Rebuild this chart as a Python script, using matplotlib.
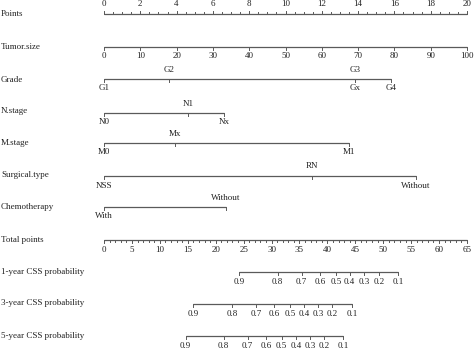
import numpy as np
import matplotlib
matplotlib.use("Agg")
import matplotlib.pyplot as plt

# ---- data (points scale 0-20) ----
points_major = np.arange(0, 21, 2)
points_minor = np.arange(0, 20.01, 0.5)

tumor_size = np.arange(0, 101, 10)
tumor_pts_per_unit = 0.2

grade_lab = ["G1", "G2", "G3", "Gx", "G4"]
grade_pts = [0.0, 3.58, 13.83, 13.83, 15.81]
grade_up = [False, True, True, False, False]

n_lab = ["N0", "N1", "Nx"]
n_pts = [0.0, 4.63, 6.61]
n_up = [False, True, False]

m_lab = ["M0", "Mx", "M1"]
m_pts = [0.0, 3.91, 13.5]
m_up = [False, True, False]

surg_lab = ["NSS", "RN", "Without"]
surg_pts = [0.0, 11.46, 17.19]
surg_up = [False, True, False]

chemo_lab = ["With", "Without"]
chemo_pts = [0.0, 6.72]
chemo_up = [False, True]

total_major = np.arange(0, 66, 5)
total_minor = np.arange(0, 66, 1)
TOTAL_MAX = 65.0

prob_lab = ["0.9", "0.8", "0.7", "0.6", "0.5", "0.4", "0.3", "0.2", "0.1"]
css1_total = [24.2, 31.1, 35.4, 38.7, 41.5, 44.0, 46.6, 49.2, 52.6]
css3_total = [16.0, 22.9, 27.2, 30.5, 33.3, 35.8, 38.4, 40.9, 44.4]
css5_total = [14.6, 21.4, 25.7, 29.0, 31.8, 34.4, 36.9, 39.4, 42.8]

row_names = ["Points", "Tumor.size", "Grade", "N.stage", "M.stage",
             "Surgical.type", "Chemotherapy", "Total points",
             "1-year CSS probability", "3-year CSS probability",
             "5-year CSS probability"]

# ---- layout (pixel rows, figure is 474x352) ----
W, H = 474, 352
PX0, PX20 = 104, 467
ppx = (PX20 - PX0) / 20.0
row_y = [14, 47, 79, 113, 143, 176, 207, 240, 272, 304, 336]
name_y = [14, 47, 80, 111, 143, 175, 207, 240, 272, 303, 336]
LC = "#5a5a5a"
TC = "#222222"
FS = 6.5

plt.rcParams["font.family"] = ["Liberation Serif", "DejaVu Serif"]
fig = plt.figure(figsize=(W / 100, H / 100), dpi=100)
ax = fig.add_axes([0, 0, 1, 1])
ax.set_xlim(-PX0 / ppx, (W - PX0) / ppx)
ax.set_ylim(H, 0)
ax.axis("off")


def axis_line(y, x0, x1):
    ax.plot([x0, x1], [y, y], color=LC, lw=0.9, solid_capstyle="butt")


def ticks(y, xs, length, up):
    d = -length if up else length
    for x in xs:
        ax.plot([x, x], [y, y + d], color=LC, lw=0.7)


def labels(y, xs, labs, up, off=9.5):
    for x, s, u in zip(xs, labs, up):
        ax.text(x, y - off if u else y + off, s, ha="center", va="center",
                fontsize=FS, color=TC)


# row names
for name, y in zip(row_names, name_y):
    ax.text(ax.get_xlim()[0] + 0.05, y, name, ha="left", va="center",
            fontsize=FS, color=TC)

# Points
y = row_y[0]
axis_line(y, 0, 20)
ticks(y, points_major, 3, True)
ticks(y, points_minor, 1.6, True)
labels(y, points_major, [str(v) for v in points_major],
       [True] * len(points_major))

# Tumor.size
y = row_y[1]
tx = tumor_size * tumor_pts_per_unit
axis_line(y, tx[0], tx[-1])
ticks(y, tx, 3, False)
labels(y, tx, [str(v) for v in tumor_size], [False] * len(tx))

# categorical rows
cats = [(grade_pts, grade_lab, grade_up), (n_pts, n_lab, n_up),
        (m_pts, m_lab, m_up), (surg_pts, surg_lab, surg_up),
        (chemo_pts, chemo_lab, chemo_up)]
for (pts, labs, up), y in zip(cats, row_y[2:7]):
    axis_line(y, min(pts), max(pts))
    ticks(y, pts, 3, False)
    labels(y, pts, labs, up)

# Total points
scale = 20.0 / TOTAL_MAX
y = row_y[7]
axis_line(y, 0, TOTAL_MAX * scale)
ticks(y, total_major * scale, 3, False)
ticks(y, total_minor * scale, 1.6, False)
labels(y, total_major * scale, [str(v) for v in total_major],
       [False] * len(total_major))

# CSS probabilities
for tot, y in zip([css1_total, css3_total, css5_total], row_y[8:11]):
    xs = np.array(tot) * scale
    axis_line(y, xs[0], xs[-1])
    ticks(y, xs, 3, False)
    labels(y, xs, prob_lab, [False] * len(xs))

fig.savefig("out.png", dpi=100, facecolor="white")
